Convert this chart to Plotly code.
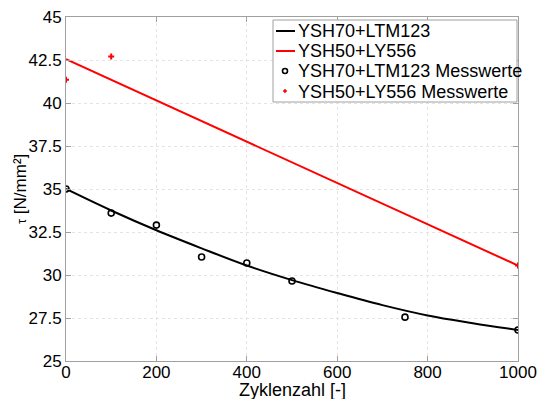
import plotly.graph_objects as go

# Fit curve YSH70+LTM123
fit_x = [0, 100, 200, 300, 400, 500, 600, 700, 800, 900, 1000]
fit_black = [35.0, 33.75, 32.6, 31.55, 30.55, 29.7, 28.95, 28.25, 27.65, 27.2, 26.8]

# Fit line YSH50+LY556
red_x = [0, 1000]
red_y = [42.55, 30.55]

# Measurements
meas_black_x = [0, 100, 200, 300, 400, 500, 750, 1000]
meas_black_y = [35.0, 33.6, 32.9, 31.05, 30.7, 29.65, 27.55, 26.8]
meas_red_x = [0, 100, 1000]
meas_red_y = [41.35, 42.7, 30.55]

series_names = ["YSH70+LTM123", "YSH50+LY556",
                "YSH70+LTM123 Messwerte", "YSH50+LY556 Messwerte"]

y_ticks = [25, 27.5, 30, 32.5, 35, 37.5, 40, 42.5, 45]
y_labels = ["25", "27.5", "30", "32.5", "35", "37.5", "40", "42.5", "45"]
x_ticks = [0, 200, 400, 600, 800, 1000]

FONT = "Liberation Sans, Arial, sans-serif"
FS = 17
W, H = 537, 399
ML, MR, MT, MB = 66, 19, 17, 38
PW, PH = W - ML - MR, H - MT - MB


def px(xp):
    return (xp - ML) / PW


def py(yp):
    return (H - MB - yp) / PH


fig = go.Figure()
fig.add_trace(go.Scatter(x=fit_x, y=fit_black, mode="lines", name=series_names[0],
                         line=dict(color="black", width=2, shape="spline")))
fig.add_trace(go.Scatter(x=red_x, y=red_y, mode="lines", name=series_names[1],
                         line=dict(color="#ff0000", width=2)))
fig.add_trace(go.Scatter(x=meas_black_x, y=meas_black_y, mode="markers", name=series_names[2],
                         marker=dict(symbol="circle-open", size=6, color="black",
                                     line=dict(width=1.6, color="black"))))
fig.add_trace(go.Scatter(x=meas_red_x, y=meas_red_y, mode="markers", name=series_names[3],
                         marker=dict(symbol="cross", size=5, color="#ff0000", line=dict(width=0))))

axis_common = dict(showline=True, linecolor="#a0a0a0", linewidth=1, mirror="ticks",
                   ticks="inside", ticklen=5, tickcolor="#a0a0a0",
                   showgrid=True, gridcolor="#e4e4e4", griddash="dot", gridwidth=1,
                   zeroline=False, automargin=False,
                   tickfont=dict(family=FONT, size=FS, color="black"))

# Legend box drawn to match the reference's compact legend
shapes = [dict(type="rect", xref="paper", yref="paper", layer="above",
               x0=px(273), x1=px(517), y0=py(102), y1=py(20),
               line=dict(color="#a0a0a0", width=1), fillcolor="white")]
rows = [31, 51, 71, 91]
shapes.append(dict(type="line", xref="paper", yref="paper", layer="above",
                   x0=px(276), x1=px(295), y0=py(rows[0]), y1=py(rows[0]),
                   line=dict(color="black", width=2)))
shapes.append(dict(type="line", xref="paper", yref="paper", layer="above",
                   x0=px(276), x1=px(295), y0=py(rows[1]), y1=py(rows[1]),
                   line=dict(color="#ff0000", width=2)))
shapes.append(dict(type="circle", xref="paper", yref="paper", layer="above",
                   x0=px(282.5), x1=px(287.5), y0=py(rows[2] + 2.5), y1=py(rows[2] - 2.5),
                   line=dict(color="black", width=1.6), fillcolor="white"))
shapes.append(dict(type="line", xref="paper", yref="paper", layer="above",
                   x0=px(283), x1=px(287), y0=py(rows[3]), y1=py(rows[3]),
                   line=dict(color="#ff0000", width=1.5)))
shapes.append(dict(type="line", xref="paper", yref="paper", layer="above",
                   x0=px(285), x1=px(285), y0=py(rows[3] + 2), y1=py(rows[3] - 2),
                   line=dict(color="#ff0000", width=1.5)))

annotations = []
for name, r in zip(series_names, rows):
    annotations.append(dict(text=name, xref="paper", yref="paper", x=px(296), y=py(r + 0.5),
                            xanchor="left", yanchor="middle", showarrow=False,
                            font=dict(family=FONT, size=18, color="black")))
annotations.append(dict(text="Zyklenzahl [-]", xref="paper", yref="paper", x=0.5, y=py(389.5),
                        xanchor="center", yanchor="middle", showarrow=False,
                        font=dict(family=FONT, size=18, color="black")))
annotations.append(dict(text="<span style='font-size:13px'>τ</span> [N/mm²]", xref="paper", yref="paper",
                        x=px(20), y=0.5, textangle=-90,
                        xanchor="center", yanchor="middle", showarrow=False,
                        font=dict(family=FONT, size=17, color="black")))

fig.update_layout(
    width=W, height=H,
    margin=dict(l=ML, r=MR, t=MT, b=MB),
    paper_bgcolor="white", plot_bgcolor="white",
    font=dict(family=FONT, size=FS, color="black"),
    showlegend=False,
    xaxis=dict(range=[0, 1000], tickvals=x_ticks, ticklabelstandoff=-4, **axis_common),
    yaxis=dict(range=[25, 45], tickvals=y_ticks, ticktext=y_labels, **axis_common),
    shapes=shapes,
    annotations=annotations,
)
fig.write_html("out.html", config={"displayModeBar": False},
               post_script="document.body.style.margin='0px';document.body.style.overflow='hidden';")
